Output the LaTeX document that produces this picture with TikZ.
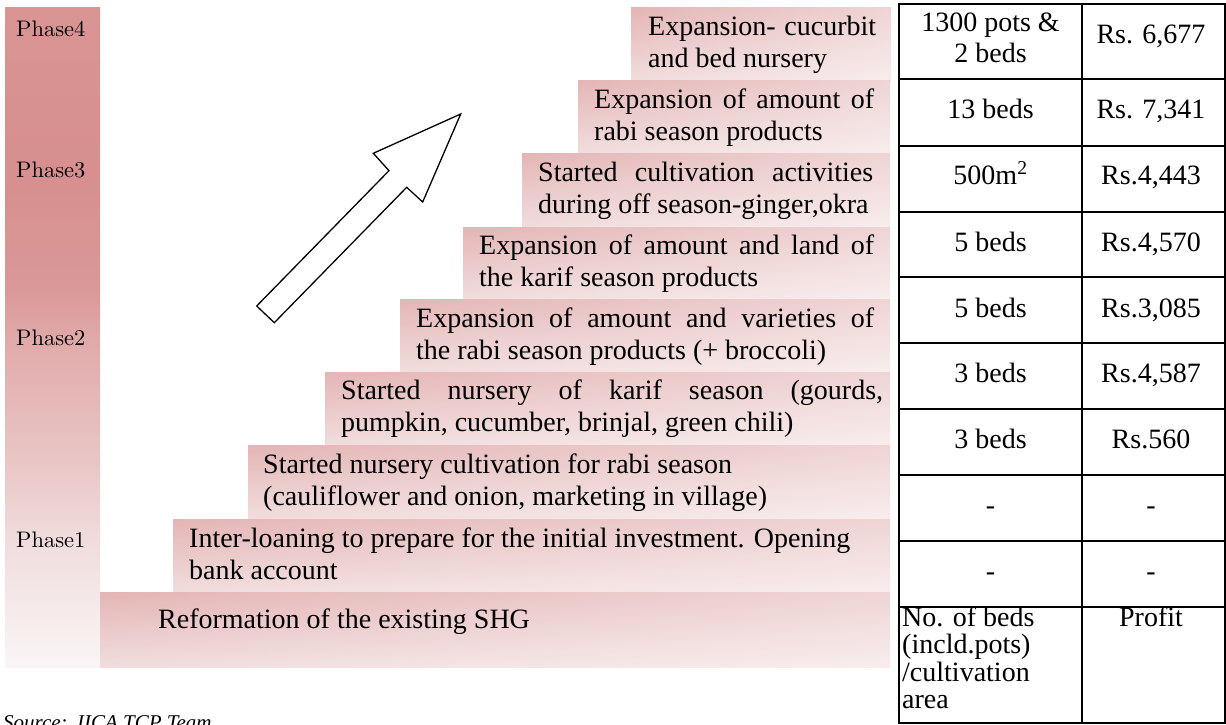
\documentclass[tikz,border=0pt]{standalone}
\usepackage{fontspec}
\newfontfamily\tnr{Liberation Serif}
\newfontfamily\phasefont{lmroman10-regular.otf}
\usetikzlibrary{shadings}

% colours of the phase bar, from bottom to top
\definecolor{pbA}{HTML}{FAF5F5}
\definecolor{pbB}{HTML}{F1DEDE}
\definecolor{pbC}{HTML}{E9C6C6}
\definecolor{pbD}{HTML}{E1ABAB}
\definecolor{pbE}{HTML}{DA9898}
\definecolor{pbF}{HTML}{D78F8F}
\definecolor{pbG}{HTML}{D99494}
% corner colours of the step boxes
\definecolor{stUL}{HTML}{E4B5B5}
\definecolor{stUR}{HTML}{EFD4D4}
\definecolor{stLL}{HTML}{F1DDDD}
\definecolor{stLR}{HTML}{F8EDED}

\pgfdeclareverticalshading{phasebar}{100bp}{%
  color(0bp)=(pbA); color(25bp)=(pbA); color(34bp)=(pbB); color(40.5bp)=(pbC);
  color(49.4bp)=(pbD); color(53.8bp)=(pbE); color(62bp)=(pbF); color(75bp)=(pbG);
  color(100bp)=(pbG)}

% two-line step texts: first line justified to the box width, or both ragged
\newcommand\twojust[3]{\parbox[t]{#1}{\makebox[#1][s]{#2}\\\mbox{#3}}}
\newcommand\tworag[3]{\parbox[t]{#1}{\mbox{#2}\\\mbox{#3}}}

\tikzset{
  stepbg/.style={upper left=stUL, upper right=stUR, lower left=stLL, lower right=stLR},
  phaselbl/.style={anchor=base west, inner sep=0pt, font=\phasefont\fontsize{22.5}{27}\selectfont},
  steptxt/.style={anchor=base west, inner sep=0pt, font=\tnr\fontsize{28}{32}\selectfont},
  cell/.style={anchor=base, inner sep=0pt, font=\tnr\fontsize{28}{32}\selectfont},
  tblline/.style={line width=1.6pt, black},
  bigarrow/.style={draw=black, line width=1.3pt, fill=white, line join=miter}
}

\begin{document}
\begin{tikzpicture}[x=1pt, y=-1pt]
\useasboundingbox (0,0) rectangle (1226,725);

% phase bar with its labels
\shade[shading=phasebar] (5,8) rectangle (100,667);
\node[phaselbl] (ph4) at (16,37) {Phase4};
\node[phaselbl] (ph3) at (16,177) {Phase3};
\node[phaselbl] (ph2) at (16,345) {Phase2};
\node[phaselbl] (ph1) at (16,547) {Phase1};

% the staircase of steps
\shade[stepbg] (631,8) rectangle (891,82);
\shade[stepbg] (578,80) rectangle (890,153);
\shade[stepbg] (522,153) rectangle (890,228);
\shade[stepbg] (463,227) rectangle (890,299);
\shade[stepbg] (400,299) rectangle (890,372);
\shade[stepbg] (325,372) rectangle (890,445);
\shade[stepbg] (248,445) rectangle (890,519);
\shade[stepbg] (173,519) rectangle (890,592);
\shade[stepbg] (100,592) rectangle (890,667);

\node[steptxt] (s9) at (648,36) {\twojust{228pt}{Expansion- cucurbit}{and bed nursery}};
\node[steptxt] (s8) at (594,108) {\twojust{280pt}{Expansion of amount of}{rabi season products}};
\node[steptxt] (s7) at (538,181) {\twojust{335pt}{Started cultivation activities}{during off season-ginger,okra}};
\node[steptxt] (s6) at (479,254) {\twojust{395pt}{Expansion of amount and land of}{the karif season products}};
\node[steptxt] (s5) at (416,327) {\twojust{458pt}{Expansion of amount and varieties of}{the rabi season products (+ broccoli)}};
\node[steptxt] (s4) at (341,399) {\twojust{542pt}{Started nursery of karif season (gourds,}{pumpkin, cucumber, brinjal, green chili)}};
\node[steptxt] (s3) at (263,473) {\tworag{610pt}{Started nursery cultivation for rabi season}{(cauliflower and onion, marketing in village)}};
\node[steptxt] (s2) at (189,547) {\tworag{685pt}{Inter-loaning to prepare for the initial investment. Opening}{bank account}};
\node[steptxt] (s1) at (158,628) {Reformation of the existing SHG};

% upward arrow
\path[bigarrow] (256.7,306) -- (274.3,322.7) -- (406.7,187.3) -- (422.7,202)
  -- (460.7,114) -- (373.3,153.3) -- (389,170.7) -- cycle;

% table of beds and profit
\draw[tblline] (899,4) rectangle (1225,723);
\draw[tblline] (1082,4) -- (1082,723);
\foreach \ry in {79,146,212,277,343,409,475,541,607}
  \draw[tblline] (899,\ry) -- (1225,\ry);

\node[cell] (b1a) at (990.5,32) {1300 pots \&};
\node[cell] (b1b) at (990.5,63) {2 beds};
\node[cell] (p1) at (1151,44) {Rs. 6,677};
\node[cell] (b2) at (990.5,118) {13 beds};
\node[cell] (p2) at (1151,118) {Rs. 7,341};
\node[cell] (b3) at (990.5,184) {500m\textsuperscript{2}};
\node[cell] (p3) at (1151,184) {Rs.4,443};
\node[cell] (b4) at (990.5,251) {5 beds};
\node[cell] (p4) at (1151,251) {Rs.4,570};
\node[cell] (b5) at (990.5,317) {5 beds};
\node[cell] (p5) at (1151,317) {Rs.3,085};
\node[cell] (b6) at (990.5,382) {3 beds};
\node[cell] (p6) at (1151,382) {Rs.4,587};
\node[cell] (b7) at (990.5,448) {3 beds};
\node[cell] (p7) at (1151,448) {Rs.560};
\node[cell] (b8) at (990.5,514) {-};
\node[cell] (p8) at (1151,514) {-};
\node[cell] (b9) at (990.5,580) {-};
\node[cell] (p9) at (1151,580) {-};
\node[cell, anchor=base west] (hd) at (902,626)
  {\parbox[t]{178pt}{\fontsize{28}{27.5}\selectfont No. of beds\\(incld.pots)\\/cultivation\\area}};
\node[cell] (hp) at (1151,626) {Profit};

% source line
\node[anchor=base west, inner sep=0pt, font=\tnr\itshape\fontsize{21}{25}\selectfont] (src) at (3,729) {Source: JICA TCP Team};
\end{tikzpicture}
\end{document}
